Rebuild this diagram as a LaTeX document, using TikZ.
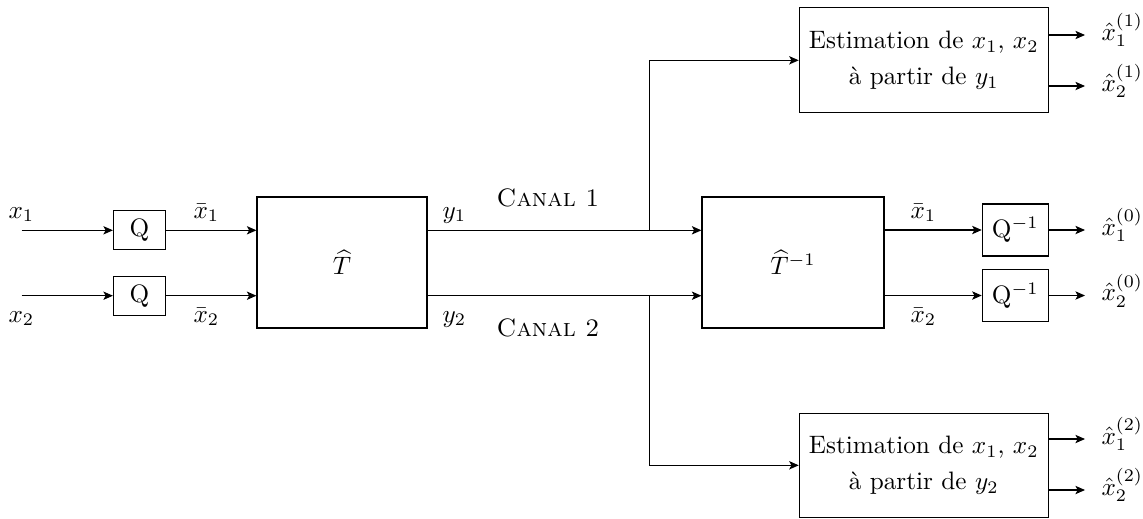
\documentclass[tikz,border=0pt]{standalone}
\usetikzlibrary{arrows.meta}
\def\PX{0.3968pt}
\begin{document}
\begin{tikzpicture}[x=\PX,y=-\PX,
  box/.style={draw,line width=0.45pt,inner sep=0pt},
  conn/.style={line width=0.45pt,-{Stealth[length=3.8pt,width=3.3pt,inset=0.9pt]}},
  wire/.style={line width=0.45pt},
  lab/.style={anchor=base west,inner sep=0pt}]
\useasboundingbox (0,0) rectangle (1143,518);
% blocks
\node[box,minimum width=52*\PX,minimum height=39*\PX] (q1) at (139.5,230.3) {Q};
\node[box,minimum width=52*\PX,minimum height=39*\PX] (q2) at (139.5,295.7) {Q};
\node[box,minimum width=170*\PX,minimum height=131*\PX] (T) at (342,262.5) {$\widehat{T}$};
\node[box,minimum width=182*\PX,minimum height=131*\PX] (Ti) at (793,262.5) {$\widehat{T}^{-1}$};
\node[box,minimum width=66*\PX,minimum height=52*\PX] (qi1) at (1015.3,230) {Q$^{-1}$};
\node[box,minimum width=66*\PX,minimum height=52*\PX] (qi2) at (1015.3,295.5) {Q$^{-1}$};
\node[box,minimum width=249*\PX,minimum height=105*\PX,align=center] (e1) at (923.8,60.3) {Estimation de $x_1$, $x_2$\\[2.3pt] à partir de $y_1$};
\node[box,minimum width=249*\PX,minimum height=104*\PX,align=center] (e2) at (923.8,465.3) {Estimation de $x_1$, $x_2$\\[2.3pt] à partir de $y_2$};
% coordinates
\coordinate (in1) at (21.7,230.3);
\coordinate (in2) at (21.7,295.7);
\coordinate (b1) at (649.3,230.3);
\coordinate (b2) at (649.3,295.7);
\coordinate (o0a) at (1085,230);
\coordinate (o0b) at (1085,295.5);
\coordinate (o1a) at (1085,35);
\coordinate (o1b) at (1085,86);
\coordinate (o2a) at (1085,439);
\coordinate (o2b) at (1085,490);
% connectors
\draw[conn] (in1) -- (q1.west);
\draw[conn] (in2) -- (q2.west);
\draw[conn] (q1.east) -- (q1.east -| T.west);
\draw[conn] (q2.east) -- (q2.east -| T.west);
\draw[conn] (q1 -| T.east) -- (q1 -| Ti.west);
\draw[conn] (q2 -| T.east) -- (q2 -| Ti.west);
\draw[conn] (b1) |- (e1.west);
\draw[conn] (b2) |- (e2.west);
\draw[conn] (qi1 -| Ti.east) -- (qi1.west);
\draw[conn] (qi2 -| Ti.east) -- (qi2.west);
\draw[conn] (qi1.east) -- (o0a);
\draw[conn] (qi2.east) -- (o0b);
\draw[conn] (o1a -| e1.east) -- (o1a);
\draw[conn] (o1b -| e1.east) -- (o1b);
\draw[conn] (o2a -| e2.east) -- (o2a);
\draw[conn] (o2b -| e2.east) -- (o2b);
% labels
\node[lab] (lx1) at (8,218) {$x_1$};
\node[lab] (lx2) at (8,322) {$x_2$};
\node[lab] (lxb1) at (193,218) {$\bar{x}_1$};
\node[lab] (lxb2) at (193,322) {$\bar{x}_2$};
\node[lab] (ly1) at (442,218) {$y_1$};
\node[lab] (ly2) at (442,322) {$y_2$};
\node[anchor=base,inner sep=0pt] (c1) at (548,206) {\textsc{Canal 1}};
\node[anchor=base,inner sep=0pt] (c2) at (548,336.5) {\textsc{Canal 2}};
\node[lab] (lxr1) at (910,218) {$\bar{x}_1$};
\node[lab] (lxr2) at (910,322) {$\bar{x}_2$};
\node[lab] (h01) at (1101,235) {$\hat{x}_1^{(0)}$};
\node[lab] (h02) at (1101,300.5) {$\hat{x}_2^{(0)}$};
\node[lab] (h11) at (1101,40) {$\hat{x}_1^{(1)}$};
\node[lab] (h12) at (1101,91) {$\hat{x}_2^{(1)}$};
\node[lab] (h21) at (1101,444) {$\hat{x}_1^{(2)}$};
\node[lab] (h22) at (1101,495) {$\hat{x}_2^{(2)}$};
\end{tikzpicture}
\end{document}
